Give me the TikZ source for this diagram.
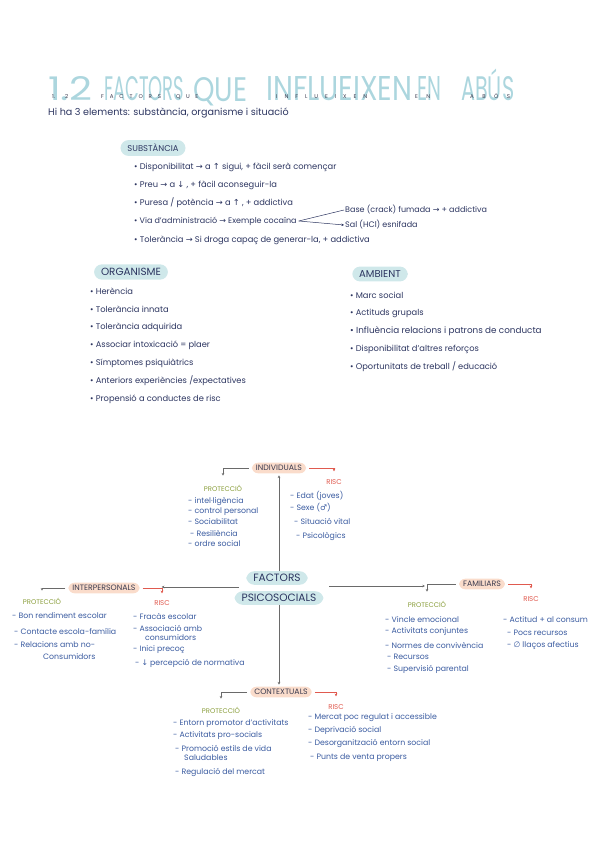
\documentclass[tikz,border=0pt]{standalone}
\usepackage{fontspec}
\usepackage{graphicx}
\setmainfont{Poppins}
\newfontfamily\symf{DejaVu Sans}
\usetikzlibrary{arrows.meta}
\definecolor{navy}{HTML}{2C3560}
\definecolor{mblue}{HTML}{3A5BA0}
\definecolor{pteal}{HTML}{CFE8EA}
\definecolor{porange}{HTML}{FADCCB}
\definecolor{pgreen}{HTML}{8A9E3C}
\definecolor{pred}{HTML}{E05A4F}
\definecolor{tblue}{HTML}{ACD6DE}
\definecolor{lgray}{HTML}{6A6A6A}
\definecolor{dgray}{HTML}{3B3B4F}
\newcommand\rar{{\symf →}}
\newcommand\uar{{\symf ↑}}
\newcommand\dar{{\symf ↓}}
\begin{document}
\begin{tikzpicture}[x=1pt,y=-1pt,
  txt/.style={anchor=west, inner sep=0pt, text=navy, font=\fontsize{8.3}{9}\selectfont},
  mt/.style={anchor=west, inner sep=0pt, text=mblue, font=\fontsize{7.8}{8}\selectfont},
  tpill/.style={fill=pteal, rounded corners=8pt, inner xsep=7pt, inner ysep=4pt, text=navy},
  opill/.style={fill=porange, rounded corners=6pt, inner xsep=4pt, inner ysep=2.5pt, text=dgray, font=\fontsize{7.8}{8}\selectfont},
  prot/.style={text=pgreen, inner sep=0pt, font=\fontsize{6.8}{7}\selectfont},
  risc/.style={text=pred, inner sep=0pt, font=\fontsize{7}{7}\selectfont},
  link/.style={draw=lgray, line width=0.5pt},
  rlink/.style={draw=pred, line width=0.6pt},
  tip/.style={-{Stealth[length=2.6pt,width=2.6pt]}},
  big/.style={anchor=base west, inner sep=0pt, text=tblue, font=\fontsize{20}{20}\selectfont},
  small/.style={anchor=base west, inner sep=0pt, text=dgray, font=\fontsize{5.5}{6}\selectfont}
]
\useasboundingbox (0,0) rectangle (600,848);

% ---------- title ----------
\node[big] (t1) at (48,101) {\resizebox{44pt}{24pt}{1.2}};
\node[big] (t2) at (104,101) {\resizebox{80pt}{24pt}{FACTORS}};
\node[big] (t3) at (193,101) {\resizebox{54pt}{24pt}{QUE}};
\node[big] (t4) at (266,101) {\resizebox{146pt}{24pt}{INFLUEIXEN}};
\node[big] (t5) at (417,101) {\resizebox{24pt}{24pt}{EN}};
\node[big] (t6) at (461,101) {\resizebox{53pt}{24pt}{AB\smash{Ú}S}};
\node[small] (w1) at (52,99) {\makebox[16pt][s]{1.\hfill 2}};
\node[small] (w2) at (101,99) {\makebox[60pt][s]{F\hfill A\hfill C\hfill T\hfill O\hfill R\hfill S}};
\node[small] (w3) at (176,99) {\makebox[22pt][s]{Q\hfill U\hfill E}};
\node[small] (w4) at (276,99) {\makebox[91pt][s]{I\hfill N\hfill F\hfill L\hfill U\hfill E\hfill I\hfill X\hfill E\hfill N}};
\node[small] (w5) at (415,99) {\makebox[15pt][s]{E\hfill N}};
\node[small] (w6) at (470,99) {\makebox[40pt][s]{A\hfill B\hfill Ó\hfill S}};
\node[txt, font=\fontsize{9.6}{10}\selectfont] (sub) at (48,113) {Hi ha 3 elements: substància, organisme i situació};

% ---------- substància ----------
\node[tpill, font=\fontsize{8.4}{9}\selectfont] (subst) at (153,148) {SUBSTÀNCIA};
\node[txt] (s1) at (134,167) {• Disponibilitat \rar\ a \uar\ sigui, + fàcil serà començar};
\node[txt] (s2) at (134,185) {• Preu \rar\ a \dar\ , + fàcil aconseguir-la};
\node[txt] (s3) at (134,203) {• Puresa / potència \rar\ a \uar\ , + addictiva};
\node[txt, font=\fontsize{8}{9}\selectfont] (s4) at (134,221) {• Via d'administració \rar\ Exemple cocaïna};
\node[txt, font=\fontsize{8}{9}\selectfont] (base) at (345,210) {Base (crack) fumada \rar\ + addictiva};
\node[txt, font=\fontsize{8}{9}\selectfont] (sal) at (345,225) {Sal (HCl) esnifada};
\node[txt] (s5) at (134,240) {• Tolerància \rar\ Si droga capaç de generar-la, + addictiva};
\draw[draw=navy, line width=0.5pt] ([xshift=2pt]s4.east) -- ([xshift=-1pt]base.west);
\draw[draw=navy, line width=0.5pt, tip] ([xshift=2pt]s4.east) -- ([xshift=-1pt]sal.west);

% ---------- organisme ----------
\node[tpill, font=\fontsize{10.4}{11}\selectfont] (org) at (131,272) {ORGANISME};
\node[txt] (o1) at (90,291) {• Herència};
\node[txt] (o2) at (90,309) {• Tolerància innata};
\node[txt] (o3) at (90,327) {• Tolerància adquirida};
\node[txt] (o4) at (90,345) {• Associar intoxicació = plaer};
\node[txt] (o5) at (90,363) {• Símptomes psiquiàtrics};
\node[txt] (o6) at (90,381) {• Anteriors experiències /expectatives};
\node[txt] (o7) at (90,399) {• Propensió a conductes de risc};

% ---------- ambient ----------
\node[tpill, font=\fontsize{10}{11}\selectfont] (amb) at (380,274) {AMBIENT};
\node[txt] (a1) at (350,295) {• Marc social};
\node[txt] (a2) at (350,313) {• Actituds grupals};
\node[txt, font=\fontsize{8.8}{9}\selectfont] (a3) at (350,331) {• Influència relacions i patrons de conducta};
\node[txt] (a4) at (350,349) {• Disponibilitat d'altres reforços};
\node[txt] (a5) at (350,367) {• Oportunitats de treball / educació};

% ---------- mind map centre ----------
\node[tpill, font=\fontsize{10.6}{11}\selectfont, inner ysep=3pt] (psi) at (279,598) {PSICOSOCIALS};
\node[tpill, font=\fontsize{10.6}{11}\selectfont, inner ysep=3pt] (fac) at (277,578) {FACTORS};

% ---------- INDIVIDUALS ----------
\node[opill] (ind) at (279,468) {INDIVIDUALS};
\node[prot] (indP) at (223,488) {PROTECCIÓ};
\node[risc] (indR) at (334,482) {RISC};
\draw[link, tip] ([xshift=-3pt]ind.west) -| ([yshift=9pt]indP.north);
\draw[rlink, tip] ([xshift=3pt]ind.east) -| ([yshift=8pt]indR.north);
\node[mt] (ip1) at (188,501) {- intel·ligència};
\node[mt] (ip2) at (188,512) {- control personal};
\node[mt] (ip3) at (188,522) {- Sociabilitat};
\node[mt] (ip4) at (190,533) {- Resiliència};
\node[mt] (ip5) at (188,544) {- ordre social};
\node[mt] (ir1) at (290,496) {- Edat (joves)};
\node[mt] (ir2) at (290,508) {- Sexe ({\symf ♂})};
\node[mt] (ir3) at (294,521) {- Situació vital};
\node[mt] (ir4) at (296,536) {- Psicològics};

% ---------- INTERPERSONALS ----------
\node[opill] (inter) at (104,588) {INTERPERSONALS};
\node[prot] (interP) at (42,601) {PROTECCIÓ};
\node[risc] (interR) at (162,603) {RISC};
\draw[link, tip] ([xshift=-3pt]inter.west) -| ([yshift=7pt]interP.north);
\draw[rlink, tip] ([xshift=3pt]inter.east) -| ([yshift=7pt]interR.north);
\node[mt] (np1) at (12,616) {- Bon rendiment escolar};
\node[mt] (np2) at (14,631) {- Contacte escola-família};
\node[mt] (np3) at (14,645) {- Relacions amb no-};
\node[mt] (np4) at (43,657) {Consumidors};
\node[mt] (nr1) at (133,616) {- Fracàs escolar};
\node[mt] (nr2) at (133,628) {- Associació amb};
\node[mt] (nr3) at (145,638) {consumidors};
\node[mt] (nr4) at (133,650) {- Inici precoç};
\node[mt] (nr5) at (135,663) {- \dar\ percepció de normativa};

% ---------- FAMILIARS ----------
\node[opill] (fam) at (482,584) {FAMILIARS};
\node[prot] (famP) at (427,604) {PROTECCIÓ};
\node[risc] (famR) at (531,599) {RISC};
\draw[link, tip] ([xshift=-3pt]fam.west) -| ([yshift=9pt]famP.north);
\draw[rlink, tip] ([xshift=3pt]fam.east) -| ([yshift=8pt]famR.north);
\node[mt] (fp1) at (385,620) {- Vincle emocional};
\node[mt] (fp2) at (385,632) {- Activitats conjuntes};
\node[mt] (fp3) at (385,645) {- Normes de convivència};
\node[mt] (fp4) at (387,657) {- Recursos};
\node[mt] (fp5) at (387,669) {- Supervisió parental};
\node[mt] (fr1) at (503,620) {- Actitud + al consum};
\node[mt] (fr2) at (507,633) {- Pocs recursos};
\node[mt] (fr3) at (507,646) {- {\symf ∅} llaços afectius};

% ---------- CONTEXTUALS ----------
\node[opill] (cont) at (281,692) {CONTEXTUALS};
\node[prot] (contP) at (221,710) {PROTECCIÓ};
\node[risc] (contR) at (336,707) {RISC};
\draw[link, tip] ([xshift=-3pt]cont.west) -| ([yshift=8pt]contP.north);
\draw[rlink, tip] ([xshift=3pt]cont.east) -| ([yshift=8pt]contR.north);
\node[mt] (cp1) at (173,724) {- Entorn promotor d'activitats};
\node[mt] (cp2) at (173,736) {- Activitats pro-socials};
\node[mt] (cp3) at (175,748) {- Promoció estils de vida};
\node[mt] (cp4) at (184,758) {Saludables};
\node[mt] (cp5) at (175,772) {- Regulació del mercat};
\node[mt] (cr1) at (308,718) {- Mercat poc regulat i accessible};
\node[mt] (cr2) at (308,730) {- Deprivació social};
\node[mt] (cr3) at (308,743) {- Desorganització entorn social};
\node[mt] (cr4) at (310,758) {- Punts de venta propers};

% ---------- central connectors ----------
\draw[link, tip] (fac.north -| ind.south) -- ([yshift=-2pt]ind.south);
\draw[link, tip] (psi.south -| ind.south) -- ([yshift=2pt]cont.north -| ind.south);
\coordinate (cl) at (239,587);
\coordinate (cr) at (329,586);
\draw[link, tip] (cl) -- ([xshift=22pt]inter.east |- cl);
\draw[link, tip] (cr) -- ([xshift=-34pt]fam.west |- cr);
\end{tikzpicture}
\end{document}
